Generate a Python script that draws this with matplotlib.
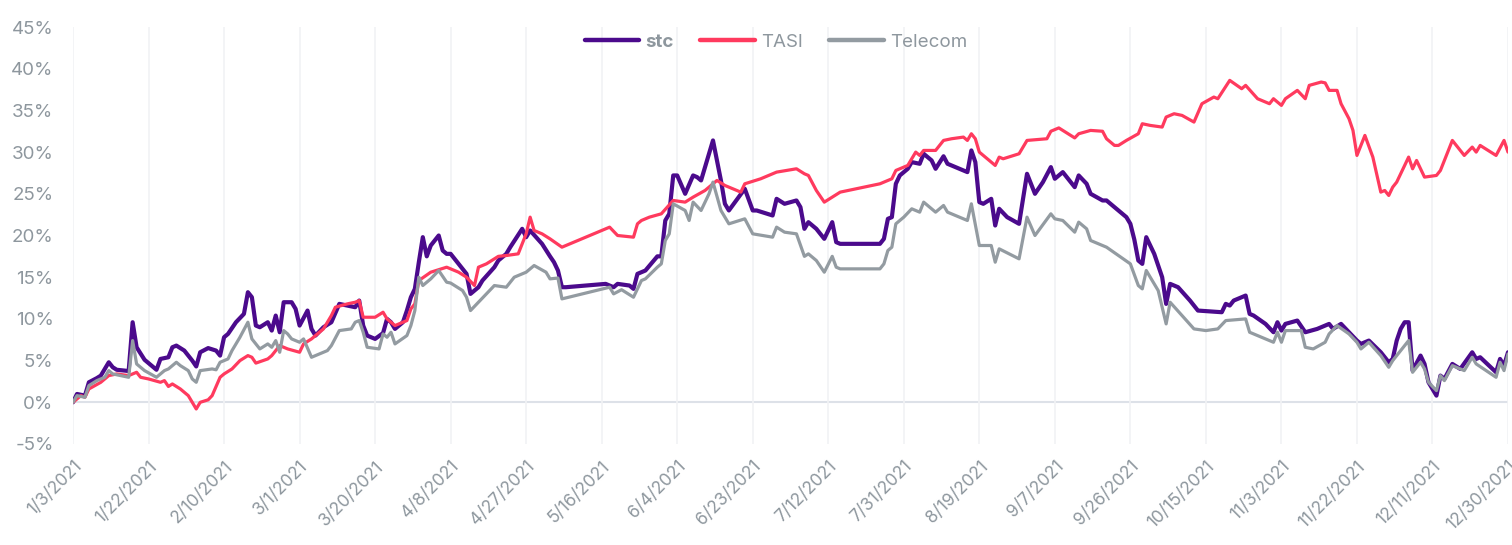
import matplotlib
matplotlib.use("Agg")
import matplotlib.pyplot as plt
import matplotlib.dates as mdates
from matplotlib.lines import Line2D
import pandas as pd

# ---------------- data (cumulative return, %) ----------------
stc_dates = ["01-03","01-04","01-06","01-07","01-09","01-10","01-12","01-13","01-14","01-17","01-18","01-19","01-21",
             "01-24","01-25","01-27","01-28","01-29","01-31","02-02","02-03","02-04","02-06","02-08","02-09","02-10",
             "02-11","02-13","02-15","02-16","02-17","02-18","02-19","02-21","02-22","02-23","02-24","02-25","02-27",
             "02-28","03-01","03-03","03-04","03-05","03-07","03-09","03-11","03-13","03-15","03-16","03-17","03-18",
             "03-20","03-22","03-23","03-24","03-25","03-27","03-28","03-29","03-30","03-31","04-01","04-02","04-03",
             "04-05","04-06","04-07","04-08","04-10","04-12","04-13","04-15","04-16","04-19","04-20","04-22","04-23",
             "04-26","04-27","04-28","05-01","05-03","05-04","05-05","05-06","05-07","05-17","05-19","05-20","05-23",
             "05-24","05-25","05-27","05-30","05-31","06-01","06-02","06-03","06-04","06-06","06-08","06-09","06-10",
             "06-13","06-15","06-16","06-17","06-21","06-23","06-24","06-28","06-29","07-01","07-04","07-05","07-06",
             "07-07","07-09","07-11","07-13","07-14","07-15","07-25","07-26","07-27","07-28","07-29","07-30","08-01",
             "08-02","08-04","08-05","08-07","08-08","08-10","08-11","08-13","08-16","08-17","08-18","08-19","08-20",
             "08-22","08-23","08-24","08-26","08-29","08-31","09-02","09-04","09-06","09-07","09-09","09-12","09-13",
             "09-15","09-16","09-19","09-20","09-22","09-25","09-26","09-27","09-28","09-29","09-30","10-02","10-04",
             "10-05","10-06","10-08","10-11","10-13","10-19","10-20","10-21","10-22","10-25","10-26","10-27","10-30",
             "11-01","11-02","11-03","11-04","11-07","11-09","11-12","11-15","11-16","11-18","11-20","11-22","11-23",
             "11-25","11-28","11-30","12-01","12-02","12-03","12-04","12-05","12-06","12-08","12-09","12-10","12-12",
             "12-13","12-14","12-16","12-18","12-21","12-22","12-23","12-27","12-28","12-29","12-30"]
stc_vals = [0.0,1.0,0.8,2.4,2.9,3.2,4.8,4.2,3.9,3.75,9.6,6.6,5.1,
            3.9,5.2,5.4,6.6,6.8,6.2,5.0,4.3,6.0,6.5,6.2,5.6,7.8,
            8.2,9.6,10.6,13.2,12.6,9.2,9.0,9.6,8.6,10.4,8.4,12.0,12.0,
            11.2,9.2,11.0,8.8,8.0,9.0,9.6,11.8,11.6,11.4,12.2,9.2,8.0,
            7.6,8.3,10.0,9.6,8.8,9.6,11.0,12.6,13.6,16.8,19.8,17.5,18.8,
            20.0,18.2,17.8,17.8,16.6,15.4,13.0,13.8,14.6,16.2,17.0,17.8,18.6,
            20.8,19.8,20.6,19.0,17.5,16.8,15.8,13.8,13.8,14.2,13.8,14.2,14.0,
            13.6,15.4,15.8,17.5,17.5,21.8,22.6,27.2,27.2,25.0,27.2,27.0,26.6,
            31.4,26.6,23.8,23.0,25.6,23.0,23.0,22.4,24.4,23.8,24.2,23.4,20.8,
            21.6,20.8,19.6,21.6,19.2,19.0,19.0,19.6,22.0,22.2,26.2,27.2,28.0,
            28.8,28.6,29.8,29.0,28.0,29.5,28.6,28.2,27.6,30.2,28.8,24.0,23.8,
            24.4,21.2,23.2,22.2,21.4,27.4,25.0,26.4,28.2,26.8,27.6,25.8,27.2,
            26.2,25.0,24.2,24.2,23.4,22.2,21.4,19.5,17.0,16.6,19.8,17.8,15.0,
            11.8,14.2,13.8,12.2,11.0,10.8,11.8,11.6,12.2,12.8,10.6,10.4,9.4,
            8.4,9.6,8.6,9.4,9.8,8.4,8.8,9.4,8.8,9.4,8.4,7.4,7.0,
            7.4,6.0,4.8,5.2,7.4,8.8,9.6,9.6,3.8,5.6,4.6,2.4,0.8,
            3.2,2.8,4.6,4.0,6.0,5.2,5.4,3.6,5.2,4.4,6.0]

tasi_dates = ["01-03","01-05","01-06","01-07","01-10","01-12","01-14","01-17","01-19","01-20","01-22","01-25","01-26",
              "01-27","01-28","01-30","02-01","02-02","02-03","02-04","02-06","02-07","02-09","02-10","02-12","02-14",
              "02-16","02-17","02-18","02-21","02-22","02-24","02-26","03-01","03-02","03-04","03-05","03-07","03-09",
              "03-10","03-13","03-15","03-16","03-17","03-20","03-22","03-23","03-25","03-28","03-29","03-30","03-31",
              "04-03","04-07","04-10","04-12","04-14","04-15","04-17","04-20","04-22","04-25","04-26","04-27","04-28",
              "04-29","05-01","05-03","05-06","05-18","05-20","05-24","05-25","05-26","05-28","05-31","06-03","06-06",
              "06-08","06-11","06-14","06-16","06-20","06-21","06-25","06-27","06-29","07-04","07-06","07-07","07-09",
              "07-11","07-15","07-25","07-28","07-29","08-01","08-03","08-04","08-05","08-08","08-10","08-12","08-15",
              "08-16","08-17","08-18","08-19","08-23","08-24","08-25","08-29","08-30","08-31","09-05","09-06","09-08",
              "09-10","09-12","09-13","09-16","09-19","09-20","09-22","09-23","09-25","09-28","09-29","10-01","10-04",
              "10-05","10-07","10-09","10-12","10-14","10-17","10-18","10-21","10-24","10-25","10-28","10-31","11-01",
              "11-03","11-04","11-07","11-09","11-10","11-13","11-14","11-15","11-17","11-18","11-20","11-21","11-22",
              "11-24","11-26","11-28","11-29","11-30","12-01","12-02","12-05","12-06","12-07","12-09","12-12","12-13",
              "12-16","12-19","12-21","12-22","12-23","12-27","12-29","12-30"]
tasi_vals = [0.0,0.8,0.6,1.6,2.4,3.2,3.4,3.2,3.6,3.0,2.8,2.4,2.6,
             1.9,2.2,1.6,0.8,0.0,-0.8,0.0,0.3,0.8,3.0,3.4,4.0,5.0,
             5.6,5.4,4.7,5.2,5.6,6.8,6.4,6.0,7.0,7.6,8.0,8.8,10.4,
             11.4,11.8,12.0,12.2,10.2,10.2,10.8,10.0,9.2,9.8,11.2,11.8,14.6,
             15.6,16.2,15.6,15.0,14.0,16.2,16.6,17.5,17.6,17.8,19.0,20.2,22.2,
             20.6,20.2,19.6,18.6,21.0,20.0,19.8,21.4,21.8,22.2,22.6,24.2,24.0,
             24.6,25.4,26.6,26.0,25.2,26.2,26.8,27.2,27.6,28.0,27.4,27.2,25.4,
             24.0,25.2,26.2,26.8,27.8,28.4,30.0,29.6,30.2,30.2,31.4,31.6,31.8,
             31.4,32.2,31.6,30.0,28.4,29.4,29.2,29.8,30.6,31.4,31.6,32.5,32.9,
             32.3,31.7,32.2,32.6,32.5,31.6,30.8,30.8,31.4,32.2,33.4,33.2,33.0,
             34.2,34.6,34.4,33.6,35.8,36.6,36.4,38.6,37.6,38.0,36.4,35.8,36.4,
             35.6,36.4,37.4,36.4,38.0,38.4,38.3,37.4,37.4,35.8,34.0,32.6,29.6,
             32.0,29.4,25.2,25.4,24.8,25.8,26.4,29.4,28.0,29.0,27.0,27.2,27.8,
             31.4,29.6,30.6,30.0,30.8,29.6,31.4,30.0]

tel_dates = ["01-03","01-04","01-06","01-07","01-09","01-11","01-12","01-13","01-17","01-18","01-19","01-21","01-24",
             "01-26","01-27","01-29","01-30","02-01","02-02","02-03","02-04","02-07","02-08","02-09","02-11","02-12",
             "02-14","02-16","02-17","02-19","02-21","02-22","02-23","02-24","02-25","02-26","02-27","03-01","03-02",
             "03-04","03-06","03-08","03-09","03-11","03-14","03-15","03-16","03-17","03-18","03-21","03-22","03-23",
             "03-24","03-25","03-28","03-29","03-30","03-31","04-01","04-03","04-05","04-07","04-08","04-11","04-12",
             "04-13","04-15","04-19","04-22","04-24","04-27","04-29","05-02","05-03","05-05","05-06","05-18","05-19",
             "05-21","05-24","05-26","05-27","05-30","05-31","06-01","06-02","06-03","06-06","06-07","06-08","06-10",
             "06-12","06-13","06-15","06-17","06-21","06-23","06-28","06-29","07-01","07-04","07-06","07-07","07-09",
             "07-11","07-13","07-14","07-15","07-25","07-26","07-27","07-28","07-29","07-31","08-02","08-04","08-05",
             "08-08","08-10","08-11","08-16","08-17","08-19","08-22","08-23","08-24","08-29","08-31","09-02","09-06",
             "09-07","09-09","09-12","09-13","09-15","09-16","09-20","09-26","09-28","09-29","09-30","10-03","10-05",
             "10-06","10-09","10-12","10-15","10-18","10-20","10-25","10-26","10-27","10-30","11-01","11-02","11-03",
             "11-04","11-08","11-09","11-11","11-14","11-15","11-17","11-20","11-22","11-23","11-25","11-28","11-30",
             "12-01","12-03","12-05","12-06","12-08","12-09","12-10","12-12","12-13","12-14","12-16","12-19","12-21",
             "12-22","12-27","12-28","12-29","12-30"]
tel_vals = [0.0,0.8,0.6,2.0,2.6,3.0,3.8,3.4,3.0,7.4,4.6,3.8,3.0,
            3.8,4.0,4.8,4.4,3.8,2.8,2.4,3.8,4.0,3.9,4.8,5.2,6.2,
            7.8,9.6,7.6,6.4,7.0,6.6,7.4,6.0,8.6,8.2,7.6,7.2,7.6,
            5.4,5.8,6.2,6.8,8.6,8.8,9.6,9.8,8.4,6.6,6.4,8.2,7.8,
            8.4,7.0,8.0,9.2,11.0,15.0,14.0,14.8,15.8,14.4,14.3,13.4,12.6,
            11.0,12.0,14.0,13.8,15.0,15.6,16.4,15.6,14.8,14.9,12.4,13.8,13.0,
            13.5,12.6,14.6,14.8,16.2,16.6,19.4,20.2,23.8,23.0,21.8,24.0,23.0,
            25.0,26.4,23.0,21.4,22.0,20.2,19.8,21.0,20.4,20.2,17.5,17.8,17.0,
            15.6,17.5,16.2,16.0,16.0,16.6,18.2,18.6,21.4,22.2,23.2,22.8,24.0,
            22.8,23.6,22.8,21.8,23.8,18.8,18.8,16.8,18.4,17.2,22.2,20.0,22.6,
            22.0,21.8,20.4,21.6,20.8,19.4,18.6,16.6,14.0,13.6,15.8,13.4,9.4,
            12.0,10.4,8.8,8.6,8.8,9.8,10.0,8.4,8.2,7.6,7.2,8.4,7.2,
            8.6,8.6,6.6,6.4,7.2,8.2,9.2,8.2,7.2,6.4,7.2,5.6,4.2,
            5.0,6.2,7.4,3.6,4.8,4.0,2.4,1.4,3.2,2.6,4.4,3.8,5.4,
            4.6,3.0,4.8,3.8,5.8]

series_names = ["stc", "TASI", "Telecom"]
series_colors = ["#4B0A8C", "#FF3A5E", "#939BA1"]
tick_dates = ["01-03","01-22","02-10","03-01","03-20","04-08","04-27","05-16","06-04","06-23","07-12",
              "07-31","08-19","09-07","09-26","10-15","11-03","11-22","12-11","12-30"]
y_ticks = [-5, 0, 5, 10, 15, 20, 25, 30, 35, 40, 45]


def to_dt(lst):
    return pd.to_datetime(["2021-" + d for d in lst])


plt.rcParams['font.family'] = ['Inter', 'DejaVu Sans']
label_color = "#8E979E"

fig = plt.figure(figsize=(15.12, 5.45), dpi=100)
ax = fig.add_axes([73 / 1512, 1 - 444 / 545, (1508 - 73) / 1512, (444 - 27) / 545])

all_dates = [stc_dates, tasi_dates, tel_dates]
all_vals = [stc_vals, tasi_vals, tel_vals]
widths = [3.0, 2.3, 2.3]
for d, v, c, w, n in zip(all_dates, all_vals, series_colors, widths, series_names):
    ax.plot(to_dt(d), v, color=c, lw=w, solid_joinstyle='round', solid_capstyle='round', label=n, zorder=3)

ticks = to_dt(tick_dates)
ax.set_xlim(ticks[0], ticks[-1])
ax.set_ylim(-5, 45)
ax.set_xticks(ticks)
ax.set_xticklabels([f"{t.month}/{t.day}/{t.year}" for t in ticks], rotation=45, ha='right',
                   rotation_mode='anchor', color=label_color, fontsize=12.5)
ax.set_yticks(y_ticks)
ax.set_yticklabels([f"{t}%" for t in y_ticks], color=label_color, fontsize=13.5)
ax.tick_params(axis='both', length=0)
ax.tick_params(axis='y', pad=14)
ax.tick_params(axis='x', pad=10)
ax.grid(axis='x', color="#F1F2F5", lw=1.2, zorder=0)
ax.axhline(0, color="#DDE1E8", lw=1.5, zorder=1)
for s in ax.spines.values():
    s.set_visible(False)

handles = [Line2D([], [], color=c, lw=3.2, solid_capstyle='round') for c in series_colors]
leg = fig.legend(handles, series_names, loc='center', bbox_to_anchor=(776 / 1512, 1 - 42 / 545),
                 ncol=3, frameon=False, fontsize=13.5, handlelength=2.9, handletextpad=0.35,
                 columnspacing=1.4)
for i, t in enumerate(leg.get_texts()):
    t.set_color(label_color)
    if i == 0:
        t.set_fontweight('bold')

fig.savefig("out.png", dpi=100)
